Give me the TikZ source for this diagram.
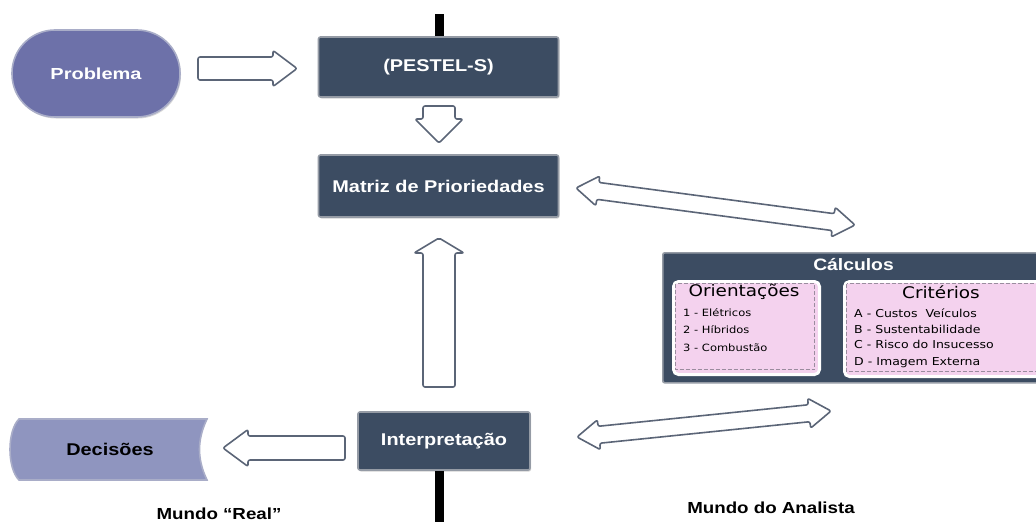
\documentclass[tikz,border=0pt]{standalone}
\usepackage{fontspec}
\setmainfont{Liberation Sans}
\newfontfamily\wsans[FakeStretch=1.17]{Liberation Sans}
\newfontfamily\wwsans[FakeStretch=1.25]{Liberation Sans}
\newfontfamily\verdw[FakeStretch=1.15]{DejaVu Sans}
\usetikzlibrary{calc,shadows}
\definecolor{darkbox}{HTML}{3C4C62}
\definecolor{probfill}{HTML}{6D71A9}
\definecolor{decfill}{HTML}{8F95BF}
\definecolor{arrowline}{HTML}{5B6577}
\definecolor{pinkfill}{HTML}{F4D2EE}
\definecolor{dashcol}{HTML}{9A8C9E}
\definecolor{boxedge}{HTML}{959BA5}
\definecolor{softedge}{HTML}{A9ADC8}
\tikzset{
  blockarrow/.style={draw=arrowline, fill=white, line width=1.6pt, rounded corners=2pt, line join=round},
  darknode/.style={fill=darkbox, draw=boxedge, line width=1.6pt, rounded corners=2pt,
     text=white, font=\wsans\fontsize{17}{20}\selectfont\bfseries,
     drop shadow={opacity=0.35, shadow xshift=1pt, shadow yshift=-1.5pt}},
  pinkbox/.style={fill=pinkfill, draw=white, line width=3pt, rounded corners=5pt},
  itemL/.style={anchor=west, font=\verdw\fontsize{10}{12}\selectfont, inner sep=0pt},
  itemR/.style={anchor=west, font=\verdw\fontsize{10.9}{13}\selectfont, inner sep=0pt},
  heading/.style={font=\verdw\fontsize{16}{18}\selectfont, inner sep=0pt},
  worldlabel/.style={font=\wsans\fontsize{16}{18}\selectfont\bfseries, inner sep=0pt},
}
\newcommand\blockdbl[5]{%
  \coordinate (P1) at ($(#1)!#5!(#2)$);
  \coordinate (P2) at ($(#2)!#5!(#1)$);
  \draw[blockarrow] (#1) -- ($(P1)!#4!90:(#2)$) -- ($(P1)!#3!90:(#2)$)
    -- ($(P2)!#3!90:(#2)$) -- ($(P2)!#4!90:(#2)$) -- (#2)
    -- ($(P2)!#4!-90:(#2)$) -- ($(P2)!#3!-90:(#2)$)
    -- ($(P1)!#3!-90:(#2)$) -- ($(P1)!#4!-90:(#2)$) -- cycle;}
\newcommand\blocksgl[5]{%
  \coordinate (Q) at ($(#2)!#5!(#1)$);
  \draw[blockarrow] ($(#1)!#3!90:(#2)$) -- ($(Q)!#3!90:(#2)$) -- ($(Q)!#4!90:(#2)$)
    -- (#2) -- ($(Q)!#4!-90:(#2)$) -- ($(Q)!#3!-90:(#2)$) -- ($(#1)!#3!-90:(#2)$) -- cycle;}
\begin{document}
\begin{tikzpicture}[x=1pt,y=-1pt]
\clip (0,0) rectangle (1036,522);
\fill[white] (0,0) rectangle (1036,522);

% Problema
\node (prob) [fill=probfill, draw=softedge, line width=1.6pt, rounded corners=43pt,
   minimum width=168pt, minimum height=87pt, text=white,
   font=\wwsans\fontsize{16}{19}\selectfont\bfseries,
   drop shadow={opacity=0.3, shadow xshift=1pt, shadow yshift=-1.5pt}] at (96,73.5) {Problema};

% dark boxes
\node (pestel) [darknode, minimum width=240pt, minimum height=60pt] at (438.5,67) {(PESTEL-S)};
\node (matriz) [darknode, minimum width=240pt, minimum height=62pt] at (438.5,186) {Matriz de Prioriedades};
\node (interp) [darknode, minimum width=172pt, minimum height=58pt] at (444,441) {Interpretação};

% divider bars
\coordinate (bartop) at (439.5,14);
\coordinate (barbot) at (439.5,522);
\draw[line width=9pt] (bartop) -- (bartop |- pestel.north);
\draw[line width=9pt] (barbot |- interp.south) -- (barbot);

% Decisoes
\fill[decfill, draw=softedge, line width=1.6pt] (19,419) -- (207,419)
  .. controls (197,440) and (197,459) .. (207,480) -- (19,480)
  .. controls (7,468) and (7,431) .. (19,419) -- cycle;
\node (dec) [font=\wsans\fontsize{17}{20}\selectfont\bfseries, text=black] at (110,449.5) {Decisões};

% Calculos
\node (calc) [fill=darkbox, draw=boxedge, line width=1.6pt, rounded corners=2pt,
   anchor=north west, minimum width=390pt, minimum height=130pt] at (662,252) {};
\node (calct) [text=white, font=\wsans\fontsize{16.5}{20}\selectfont\bfseries, inner sep=0pt] at (853.5,265) {Cálculos};

\node (orient) [pinkbox, anchor=north west, minimum width=146pt, minimum height=93pt] at (672,280) {};
\draw[dashcol, line width=1.3pt, dash pattern=on 4pt off 2pt] (675.5,283.5) rectangle (814.5,369.5);
\node (crit) [pinkbox, anchor=north west, minimum width=205pt, minimum height=95pt] at (843,280) {};
\draw[dashcol, line width=1.3pt, dash pattern=on 4pt off 2pt] (846.5,283.5) rectangle (1044,371.5);

\node (oh) [heading] at (744,292) {Orientações};
\node (ch) [heading] at (941,292) {Critérios};
\node (o1) [itemL] at (683,313) {1 - Elétricos};
\node (o2) [itemL] at (683,329.5) {2 - Híbridos};
\node (o3) [itemL] at (683,348) {3 - Combustão};
\node (c1) [itemR] at (854,313) {A - Custos~ Veículos};
\node (c2) [itemR] at (854,329.5) {B - Sustentabilidade};
\node (c3) [itemR] at (854,344.5) {C - Risco do Insucesso};
\node (c4) [itemR] at (854,363) {D - Imagem Externa};

% block arrows
\coordinate (a1s) at (198,68.5); \coordinate (a1e) at (297,68.5);
\blocksgl{a1s}{a1e}{11.5pt}{18pt}{24pt}
\coordinate (a2s) at (439,106); \coordinate (a2e) at (439,143);
\blocksgl{a2s}{a2e}{16pt}{24pt}{24pt}
\coordinate (a3s) at (439,387); \coordinate (a3e) at (439,238);
\blocksgl{a3s}{a3e}{16pt}{25pt}{15pt}
\coordinate (a4s) at (345,448); \coordinate (a4e) at (223,448);
\blocksgl{a4s}{a4e}{12pt}{18.5pt}{25pt}

\coordinate (d1a) at (576,188); \coordinate (d1b) at (855,225);
\blockdbl{d1a}{d1b}{8.5pt}{15pt}{22pt}
\coordinate (d2a) at (577,437); \coordinate (d2b) at (831,411);
\blockdbl{d2a}{d2b}{8.5pt}{15pt}{22pt}

% world labels
\node (mreal) [worldlabel, anchor=base] at (219,519.5) {Mundo “Real”};
\node (manal) [worldlabel] at (771,508) {Mundo do Analista};
\end{tikzpicture}
\end{document}
